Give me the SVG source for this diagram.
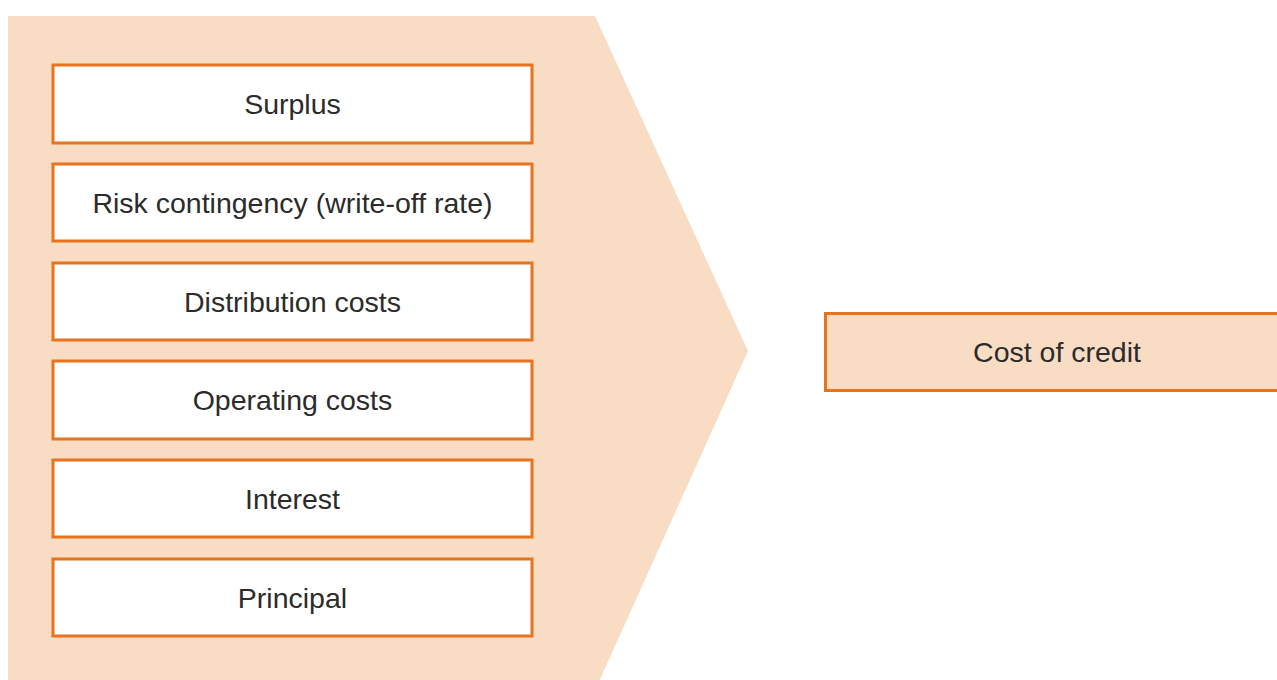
<svg xmlns="http://www.w3.org/2000/svg" width="1277" height="680" viewBox="0 0 1277 680">
<style>
.box{fill:#ffffff;stroke:#E8731F;stroke-width:3}
.out{fill:#F9DCC4;stroke:#E8731F;stroke-width:3}
.lbl{font-family:"Liberation Sans",Arial,sans-serif;font-size:28.5px;fill:#2b2b2b;text-anchor:middle}
</style>
<rect width="1277" height="680" fill="#ffffff"/>
<g id="arrow">
<polygon points="8,16 595,16 748,351 597,686 8,686" fill="#F9DCC4"/>
</g>
<g id="surplus"><rect class="box" x="53" y="65" width="479" height="78"/><text class="lbl" x="292.5" y="114">Surplus</text></g>
<g id="risk"><rect class="box" x="53" y="164" width="479" height="77"/><text class="lbl" x="292.5" y="213">Risk contingency (write-off rate)</text></g>
<g id="distribution"><rect class="box" x="53" y="263" width="479" height="77"/><text class="lbl" x="292.5" y="312">Distribution costs</text></g>
<g id="operating"><rect class="box" x="53" y="361" width="479" height="78"/><text class="lbl" x="292.5" y="410">Operating costs</text></g>
<g id="interest"><rect class="box" x="53" y="460" width="479" height="77"/><text class="lbl" x="292.5" y="509">Interest</text></g>
<g id="principal"><rect class="box" x="53" y="559" width="479" height="77"/><text class="lbl" x="292.5" y="608">Principal</text></g>
<g id="cost"><rect class="out" x="825.5" y="313.5" width="460" height="77"/><text class="lbl" x="1057" y="362">Cost of credit</text></g>
<g id="connectors"></g>
</svg>
